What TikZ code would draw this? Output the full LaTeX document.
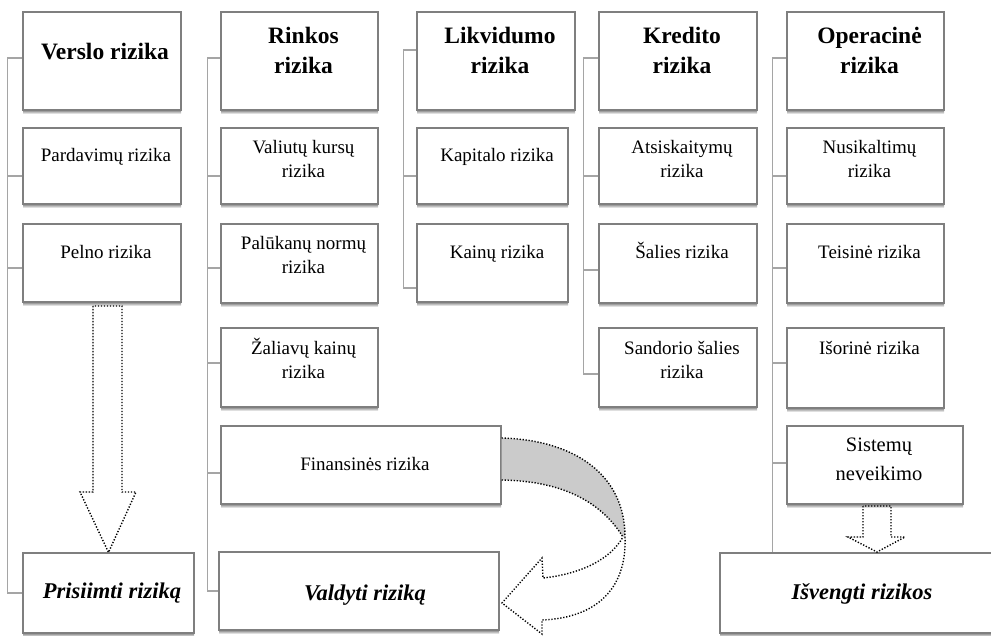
\documentclass[tikz,border=0pt]{standalone}
\usepackage{fontspec}
\setmainfont{Liberation Serif}
\usetikzlibrary{calc}

\definecolor{boxline}{HTML}{7F7F7F}
\definecolor{connline}{HTML}{A5A5A5}
\definecolor{shade}{HTML}{D2D2D2}
\definecolor{bandfill}{HTML}{CBCBCB}

\tikzset{
  rbox/.style={draw=boxline, line width=1.2pt, fill=white, inner sep=0pt, rectangle},
  conn/.style={draw=connline, line width=1.5pt},
  dots/.style={draw=black, line width=1.4pt, dash pattern=on 1.3pt off 1.7pt},
  ttl/.style={font=\fontsize{23.5}{30}\selectfont\bfseries, align=center, inner sep=0pt, anchor=north},
  itm/.style={font=\fontsize{19}{24.5}\selectfont, align=center, inner sep=0pt, anchor=north},
  itmbig/.style={font=\fontsize{20.5}{29}\selectfont, align=center, inner sep=0pt, anchor=north},
  act/.style={font=\fontsize{22.5}{26}\selectfont\bfseries\itshape, inner sep=0pt, anchor=base},
}

% box with a thin shaded strip under its lower edge: name, left, top, right, bottom
\newcommand\riskbox[5]{%
  \fill[shade] (#2,#5) rectangle (#4,#5+4);
  \node[rbox, minimum width={#4-#2}, minimum height={#5-#3}] (#1) at ({(#2+#4)/2},{(#3+#5)/2}) {};
}
% text blocks placed by the baseline of their first line: name, x, baseline, text
\newcommand\titletext[4]{\node[ttl] (#1) at (#2,{#3-21}) {\rule{0pt}{21pt}#4};}
\newcommand\itemtext[4]{\node[itm] (#1) at (#2,{#3-17.5}) {\rule{0pt}{17.5pt}#4};}

\begin{document}
\begin{tikzpicture}[x=1pt, y=-1pt]
\clip (0,0) rectangle (991,636);

% ---- Verslo rizika column
\riskbox{verslo}{23}{12}{181}{110}
\riskbox{pardav}{23}{128}{181}{204}
\riskbox{pelno}{23}{224}{181}{302}
\riskbox{prisiimti}{23}{553}{194}{633}

% ---- Rinkos rizika column
\riskbox{rinkos}{221}{12}{378}{110}
\riskbox{valiut}{221}{128}{378}{204}
\riskbox{paluk}{221}{224}{378}{303}
\riskbox{zaliav}{221}{328}{378}{407}
\riskbox{finans}{221}{426}{501}{504}
\riskbox{valdyti}{219}{552}{499}{630}

% ---- Likvidumo rizika column
\riskbox{likvid}{417}{12}{575}{110}
\riskbox{kapital}{417}{128}{568}{204}
\riskbox{kainu}{417}{224}{568}{302}

% ---- Kredito rizika column
\riskbox{kredit}{599}{12}{757}{110}
\riskbox{atsisk}{599}{128}{757}{204}
\riskbox{salies}{599}{224}{757}{303}
\riskbox{sandor}{599}{328}{757}{407}

% ---- Operacinė rizika column
\riskbox{oper}{787}{12}{944}{110}
\riskbox{nusik}{787}{128}{944}{204}
\riskbox{teisin}{787}{224}{944}{303}
\riskbox{isorin}{787}{328}{944}{408}
\riskbox{sistem}{787}{426}{963}{504}
\riskbox{isvengti}{720}{553}{1004}{633}

% ---- connectors
\draw[conn] ([yshift=3pt]verslo.west) -- ++(-15,0) |- (prisiimti.west);
\draw[conn] ([yshift=-10pt]pardav.west) -- ++(-15,0);
\draw[conn] ([yshift=-5pt]pelno.west) -- ++(-15,0);

\draw[conn] ([yshift=3pt]rinkos.west) -- ++(-13,0) |- (valdyti.west);
\draw[conn] ([yshift=-10pt]valiut.west) -- ++(-13,0);
\draw[conn] ([yshift=-4.5pt]paluk.west) -- ++(-13,0);
\draw[conn] ([yshift=4.5pt]zaliav.west) -- ++(-13,0);
\draw[conn] ([yshift=-8pt]finans.west) -- ++(-13,0);

\draw[conn] ([yshift=11pt]likvid.west) -- ++(-13,0) |- ([yshift=-25pt]kainu.west);
\draw[conn] ([yshift=-10pt]kapital.west) -- ++(-13,0);

\draw[conn] ([yshift=3pt]kredit.west) -- ++(-15,0) |- ([yshift=-6.5pt]sandor.west);
\draw[conn] ([yshift=-10pt]atsisk.west) -- ++(-15,0);
\draw[conn] ([yshift=-6.5pt]salies.west) -- ++(-15,0);

\draw[conn] ([yshift=3pt]oper.west) -- ++(-14,0) coordinate (osp) -- (osp |- isvengti.north);
\draw[conn] ([yshift=-10pt]nusik.west) -- ++(-14,0);
\draw[conn] ([yshift=-4.5pt]teisin.west) -- ++(-14,0);
\draw[conn] ([yshift=5pt]isorin.west) -- ++(-14,0);
\draw[conn] ([yshift=2pt]sistem.west) -- ++(-14,0);

% ---- texts
\titletext{verslo-t}{105}{59}{Verslo rizika}
\itemtext{pardav-t}{106}{161}{Pardavimų rizika}
\itemtext{pelno-t}{106}{258}{Pelno rizika}
\node[act] (prisiimti-t) at (112,598) {Prisiimti riziką};

\titletext{rinkos-t}{303.5}{43}{Rinkos\\rizika}
\itemtext{valiut-t}{303.5}{153}{Valiutų kursų\\rizika}
\itemtext{paluk-t}{303.5}{249}{Palūkanų normų\\rizika}
\itemtext{zaliav-t}{303.5}{354}{Žaliavų kainų\\rizika}
\itemtext{finans-t}{365}{470}{Finansinės rizika}
\node[act] (valdyti-t) at (365,600) {Valdyti riziką};

\titletext{likvid-t}{500}{43}{Likvidumo\\rizika}
\itemtext{kapital-t}{497}{161}{Kapitalo rizika}
\itemtext{kainu-t}{497}{258}{Kainų rizika}

\titletext{kredit-t}{682}{43}{Kredito\\rizika}
\itemtext{atsisk-t}{682}{153}{Atsiskaitymų\\rizika}
\itemtext{salies-t}{682}{258}{Šalies rizika}
\itemtext{sandor-t}{682}{354}{Sandorio šalies\\rizika}

\titletext{oper-t}{869.5}{43}{Operacinė\\rizika}
\itemtext{nusik-t}{869.5}{153}{Nusikaltimų\\rizika}
\itemtext{teisin-t}{869.5}{258}{Teisinė rizika}
\itemtext{isorin-t}{869.5}{354}{Išorinė rizika}
\node[itmbig] (sistem-t) at (879,{451-18.5}) {\rule{0pt}{18.5pt}Sistemų\\neveikimo};
\node[act] (isvengti-t) at (862,599) {Išvengti rizikos};

% ---- hollow dotted arrows
\draw[dots] (93,306) -- (93,492) -- (80,492) -- (prisiimti.north) -- (136,492)
  -- (122,492) -- (122,306) -- cycle;
\draw[dots] (863,506) -- (863,537) -- (848,537) -- (877,552) -- (905,537)
  -- (891,537) -- (891,506) -- cycle;

% ---- curved arrow from Finansinės rizika back to Valdyti riziką
\coordinate (bendA) at ([yshift=27pt]finans.east);
\coordinate (bendB) at ([yshift=-15pt]finans.east);
\coordinate (turn) at (625,537);
\coordinate (turnin) at (623,537);
\fill[bandfill] (bendA) .. controls (575,440) and (625,475) .. (turn)
  -- (turnin) .. controls (600,500) and (560,481) .. (bendB) -- cycle;
\draw[dots] (bendA) .. controls (575,440) and (625,475) .. (turn);
\draw[dots] (bendB) .. controls (560,481) and (600,500) .. (turnin);
\coordinate (tip) at (502,603);
\draw[dots] (turn) .. controls (627,590) and (595,618) .. (542,620)
  -- (542,634) -- (tip) -- (542,558) -- (543,578)
  .. controls (580,574) and (610,560) .. (turnin);

\end{tikzpicture}
\end{document}
